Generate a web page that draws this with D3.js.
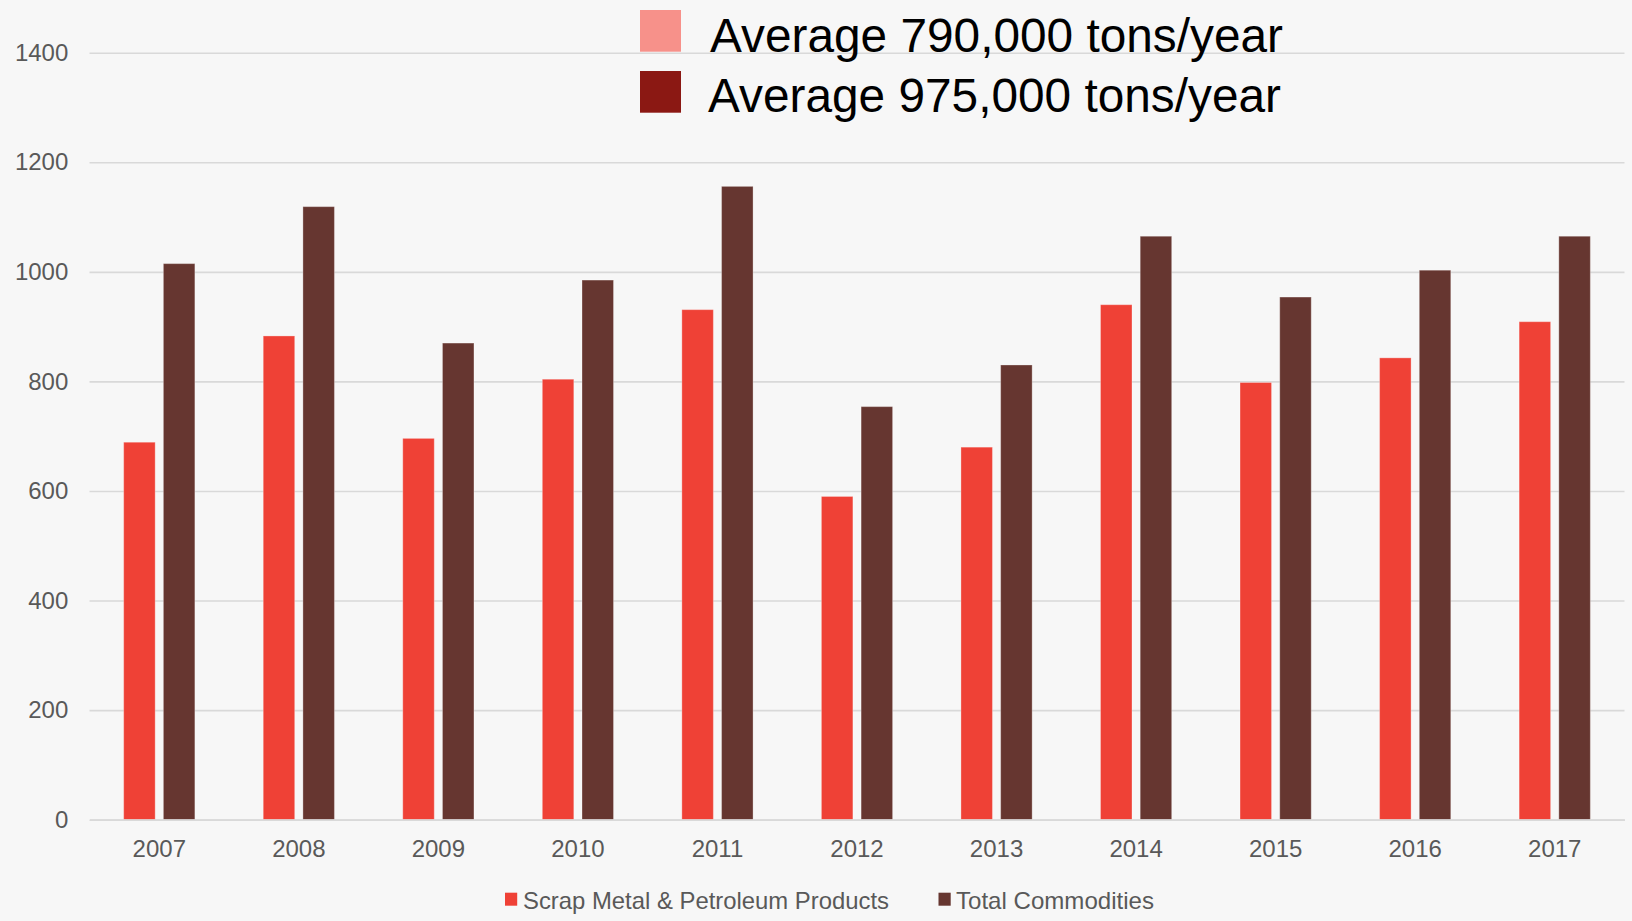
<!DOCTYPE html>
<html>
<head>
<meta charset="utf-8">
<script src="https://cdn.jsdelivr.net/npm/d3@7"></script>
<style>
  html, body { margin: 0; padding: 0; background: #f7f7f7; }
  svg { display: block; font-family: "Liberation Sans", Arial, sans-serif; }
</style>
</head>
<body>
<svg id="chart" width="1632" height="921"></svg>
<script>
const years = ["2007","2008","2009","2010","2011","2012","2013","2014","2015","2016","2017"];
const scrapValues = [689, 883, 696, 804, 931, 590, 680, 940, 798, 843, 909];
const totalValues = [1015, 1119, 870, 985, 1156, 754, 830, 1065, 954, 1003, 1065];
const seriesNames = ["Scrap Metal & Petroleum Products", "Total Commodities"];
const seriesColors = ["#ef4136", "#663630"];
const yTicks = [0, 200, 400, 600, 800, 1000, 1200, 1400];
const averageLabels = ["Average 790,000 tons/year", "Average 975,000 tons/year"];
const averageColors = ["#f7918a", "#8b1813"];

const svg = d3.select("#chart");
svg.append("rect").attr("width", 1632).attr("height", 921).attr("fill", "#f7f7f7");

const plotLeft = 89.5, plotRight = 1624.5, plotTop = 52.7, plotBottom = 819.7;

const x = d3.scaleBand().domain(years).range([plotLeft, plotRight]).paddingInner(0).paddingOuter(0);
const xInner = d3.scaleBand().domain([0, 1]).range([-35.6, 35.6]).paddingInner(0.2066).paddingOuter(0);
const y = d3.scaleLinear().domain([0, 1400]).range([plotBottom, plotTop]);

// y axis with gridlines
const yAxis = svg.append("g")
  .attr("transform", `translate(${plotLeft},0)`)
  .call(d3.axisLeft(y).tickValues(yTicks).tickFormat(d3.format("d"))
    .tickSize(-(plotRight - plotLeft)).tickPadding(21.2));
yAxis.select(".domain").remove();
yAxis.selectAll(".tick line").attr("stroke", "#d9d9d9").attr("stroke-width", 1.6);
yAxis.selectAll(".tick text").attr("fill", "#595959").style("font-size", "24px")
  .style("font-family", "'Liberation Sans', Arial, sans-serif");

// bars
const rows = years.map((yr, i) => ({ year: yr, vals: [scrapValues[i], totalValues[i]] }));
const groups = svg.append("g").selectAll("g").data(rows).join("g")
  .attr("transform", d => `translate(${x(d.year) + x.bandwidth() / 2},0)`);
groups.selectAll("rect").data(d => d.vals.map((v, k) => ({ v, k }))).join("rect")
  .attr("x", d => xInner(d.k))
  .attr("width", xInner.bandwidth())
  .attr("y", d => y(d.v))
  .attr("height", d => y(0) - y(d.v))
  .attr("fill", d => seriesColors[d.k])
  .attr("stroke", "rgba(255,255,255,0.3)")
  .attr("stroke-width", 1);

// x axis
const xAxis = svg.append("g")
  .attr("transform", `translate(0,${plotBottom})`)
  .call(d3.axisBottom(x).tickSize(0).tickPadding(20));
xAxis.select(".domain").attr("stroke", "#d9d9d9").attr("stroke-width", 1.8);
xAxis.selectAll(".tick text").attr("fill", "#595959").style("font-size", "24px")
  .style("font-family", "'Liberation Sans', Arial, sans-serif");

// top legend (averages)
const avgPos = [{ sq: 10, base: 52.3, tx: 710 }, { sq: 71, base: 112.3, tx: 708 }];
const avg = svg.append("g");
averageLabels.forEach((lab, i) => {
  avg.append("rect").attr("x", 640).attr("y", avgPos[i].sq).attr("width", 41).attr("height", 41.7)
    .attr("fill", averageColors[i]);
  avg.append("text").attr("x", avgPos[i].tx).attr("y", avgPos[i].base)
    .attr("fill", "#000").style("font-size", "48px")
    .attr("textLength", 573).attr("lengthAdjust", "spacingAndGlyphs").text(lab);
});

// bottom legend
const legPos = [{ sq: 505, tx: 523, len: 366 }, { sq: 938.5, tx: 956, len: 198 }];
const leg = svg.append("g");
seriesNames.forEach((name, i) => {
  leg.append("rect").attr("x", legPos[i].sq).attr("y", 892.7).attr("width", 12.2).attr("height", 13)
    .attr("fill", seriesColors[i]);
  leg.append("text").attr("x", legPos[i].tx).attr("y", 909.3)
    .attr("fill", "#595959").style("font-size", "24px")
    .attr("textLength", legPos[i].len).attr("lengthAdjust", "spacingAndGlyphs").text(name);
});
</script>
</body>
</html>
